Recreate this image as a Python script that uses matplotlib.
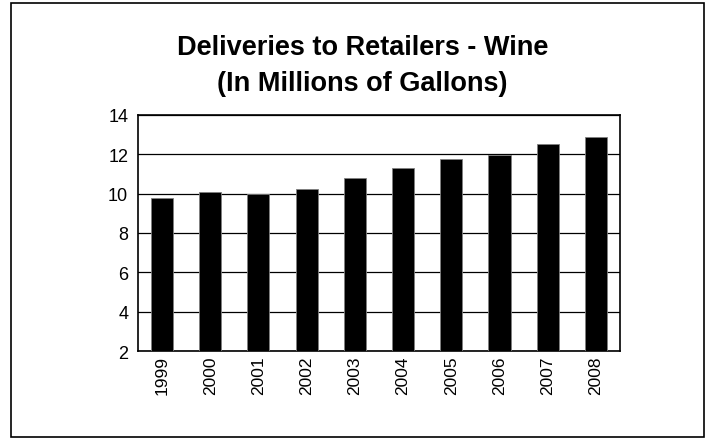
import matplotlib.pyplot as plt
from matplotlib.patches import Rectangle

plt.rcParams["font.family"] = ["Liberation Sans", "DejaVu Sans"]

YEARS = ["1999", "2000", "2001", "2002", "2003", "2004", "2005", "2006", "2007", "2008"]
GALLONS = [9.77, 10.1, 9.96, 10.24, 10.8, 11.29, 11.74, 11.98, 12.5, 12.86]
Y_TICKS = [2, 4, 6, 8, 10, 12, 14]

fig = plt.figure(figsize=(7.07, 4.39), dpi=100)
ax = fig.add_axes([0.195, 0.198, 0.682, 0.538])

x = range(len(YEARS))
ax.bar(x, [v - 2 for v in GALLONS], bottom=2, width=0.46, color="black",
       edgecolor="#808080", linewidth=0.6, zorder=3)

ax.set_xlim(-0.5, len(YEARS) - 0.5)
ax.set_ylim(2, 14)
ax.set_yticks(Y_TICKS)
ax.set_yticklabels([str(t) for t in Y_TICKS], fontsize=13)
ax.set_xticks(list(x))
ax.set_xticklabels(YEARS, rotation=90, fontsize=12.5)
ax.tick_params(axis="y", length=0, pad=7)
ax.tick_params(axis="x", length=0, pad=3)
ax.grid(axis="y", color="black", linewidth=0.9, zorder=0)
for spine in ax.spines.values():
    spine.set_linewidth(1.2)
    spine.set_color("black")

fig.text(0.513, 0.8747, "Deliveries to Retailers - Wine",
         ha="center", va="baseline", fontsize=19.5, fontweight="bold")
fig.text(0.513, 0.7927, "(In Millions of Gallons)",
         ha="center", va="baseline", fontsize=19.5, fontweight="bold")

fig.patches.append(Rectangle((11 / 707, 1 / 439), 693 / 707, 434 / 439,
                             transform=fig.transFigure, fill=False,
                             edgecolor="black", linewidth=1.2))

fig.savefig("out.png", dpi=100)
